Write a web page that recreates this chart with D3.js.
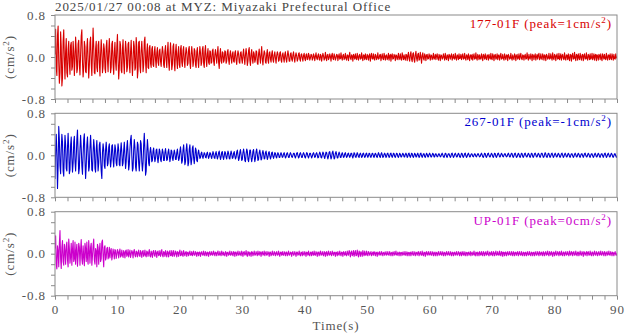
<!DOCTYPE html>
<html>
<head>
<meta charset="utf-8">
<script src="https://cdn.jsdelivr.net/npm/d3@7/dist/d3.min.js"></script>
<style>
  html, body { margin: 0; padding: 0; background: #fff; }
  svg { display: block; }
  text { font-family: "Liberation Serif", "DejaVu Serif", serif; }
</style>
</head>
<body>
<svg id="chart" width="625" height="334"></svg>
<script>
// Acceleration records, one sample every 0.1 s from 0 to 90 s (cm/s^2)
const sampleStep = 0.1;

const channelNames = ["177-01F", "267-01F", "UP-01F"];
const channelPeaks = [1, -1, 0];
const channelColors = ["#d80000", "#0000d0", "#cc00cc"];

const acc177 = [
  0.05,0.53,-0.2,-0.35,0.42,0.59,-0.1,-0.5,-0.3,0.48,
  0.2,-0.55,-0.4,0.3,0.52,-0.05,-0.42,0.1,0.35,-0.3,
  -0.38,0.15,0.3,-0.12,-0.33,0.22,0.28,-0.25,-0.18,0.3,
  0.1,-0.35,-0.05,0.38,0.15,-0.3,-0.22,0.25,0.32,-0.15,
  -0.34,0.05,0.4,0.52,-0.1,-0.38,-0.2,0.3,0.2,-0.28,
  -0.3,0.18,0.35,-0.05,-0.4,-0.15,0.28,0.38,-0.12,-0.35,
  0.1,0.55,0.2,-0.3,-0.32,0.15,0.3,-0.2,-0.28,0.22,
  0.3,-0.1,-0.36,0.05,0.33,0.12,-0.3,-0.18,0.25,0.15,
  -0.22,-0.3,0.2,0.32,-0.05,-0.28,0.1,0.35,0.05,-0.3,
  -0.2,0.25,0.3,-0.15,-0.33,0.08,0.28,-0.1,-0.25,0.2,
  0.43,-0.05,-0.42,-0.2,0.3,0.22,-0.25,-0.3,0.15,0.33,
  -0.1,-0.32,0.05,0.3,0.15,-0.28,-0.2,0.25,0.28,-0.15,
  -0.3,0.1,0.32,-0.05,-0.35,-0.1,0.3,0.2,-0.25,-0.2,
  0.37,0.2,-0.4,-0.25,0.28,0.3,-0.18,-0.3,0.12,0.3,
  0.05,-0.28,-0.15,0.3,0.38,-0.1,-0.3,0.1,0.25,-0.2,
  -0.22,0.18,0.22,-0.12,-0.2,0.15,0.2,-0.15,-0.18,0.1,
  0.2,-0.05,-0.2,0.08,0.18,-0.1,-0.16,0.12,0.15,-0.08,
  -0.18,0.05,0.2,0.1,-0.15,-0.2,0.12,0.22,-0.05,-0.2,
  0.1,0.28,-0.1,-0.25,0.05,0.27,0.05,-0.24,-0.15,0.2,
  0.25,-0.12,-0.26,0.1,0.24,-0.05,-0.22,0.08,0.2,-0.15,
  -0.2,0.15,0.22,-0.1,-0.18,0.12,0.2,-0.08,-0.2,0.05,
  0.18,0.1,-0.16,-0.12,0.15,0.2,-0.1,-0.22,0.05,0.2,
  0.05,-0.18,-0.08,0.16,0.12,-0.15,-0.2,0.1,0.18,-0.06,
  -0.2,0.02,0.2,0.08,-0.16,-0.1,0.15,0.2,-0.12,-0.2,
  0.1,0.22,-0.05,-0.18,0.06,0.16,-0.1,-0.14,0.12,0.1,
  -0.12,-0.1,0.12,0.15,-0.08,-0.16,0.05,0.14,0.02,-0.12,
  0.08,0.2,-0.1,-0.22,0.05,0.16,-0.08,-0.12,0.1,0.08,
  -0.1,-0.06,0.12,0.1,-0.12,-0.08,0.1,0.14,-0.05,-0.14,
  0.04,0.12,-0.02,-0.12,0.06,0.1,-0.08,-0.1,0.08,0.12,
  -0.06,-0.14,0.02,0.12,0.06,-0.1,-0.12,0.08,0.1,-0.04,
  -0.12,0.05,0.15,-0.02,-0.14,0.04,0.16,0.05,-0.16,-0.08,
  0.12,0.18,-0.06,-0.16,0.06,0.14,-0.04,-0.12,0.1,0.06,
  -0.1,-0.05,0.12,0.1,-0.12,-0.14,0.06,0.15,0.0,-0.12,
  0.05,0.2,-0.04,-0.15,0.02,0.12,0.08,-0.1,-0.12,0.06,
  0.14,-0.06,-0.12,0.08,0.1,-0.04,-0.1,0.06,0.12,-0.05,
  -0.1,0.04,0.1,-0.02,-0.12,0.02,0.1,0.06,-0.08,-0.06,
  0.08,0.1,-0.06,-0.1,0.04,0.08,-0.02,-0.1,0.05,0.1,
  -0.04,-0.1,0.02,0.12,0.04,-0.08,-0.08,0.06,0.08,-0.04,
  -0.08,0.04,0.1,-0.02,-0.1,0.02,0.08,0.02,-0.08,-0.04,
  0.06,0.08,-0.04,-0.08,0.04,0.06,-0.02,-0.08,0.03,0.07,
  -0.03,-0.07,0.04,0.06,-0.05,-0.04,0.07,0.03,-0.06,-0.02,
  0.05,0.04,-0.06,-0.03,0.06,0.02,-0.07,0.01,0.08,-0.02,
  -0.05,0.03,0.06,-0.04,-0.06,0.05,0.03,-0.08,0.0,0.07,
  0.02,-0.06,-0.03,0.09,-0.01,-0.07,0.04,0.05,-0.05,-0.02,
  0.06,0.01,-0.08,0.03,0.07,-0.03,-0.05,0.06,0.02,-0.06,
  -0.02,0.05,0.04,-0.07,0.01,0.06,-0.04,-0.03,0.08,-0.01,
  -0.06,0.03,0.05,-0.05,-0.02,0.07,-0.03,-0.06,0.04,0.03,
  -0.07,0.02,0.09,-0.02,-0.05,0.04,0.02,-0.08,0.05,0.01,
  -0.04,0.06,-0.02,-0.05,0.07,0.0,-0.06,0.03,0.05,-0.04,
  -0.03,0.08,-0.01,-0.07,0.04,0.03,-0.05,0.06,-0.02,-0.05,
  0.05,0.02,-0.06,0.03,0.06,-0.08,0.01,0.07,-0.03,-0.04,
  0.06,-0.02,-0.06,0.05,0.03,-0.05,-0.01,0.08,-0.04,-0.03,
  0.04,0.05,-0.07,0.0,0.06,-0.03,-0.05,0.07,0.01,-0.06,
  0.03,0.04,-0.05,-0.02,0.07,-0.06,0.02,0.05,-0.08,0.03,
  0.06,-0.04,-0.03,0.05,0.02,-0.07,0.04,0.03,-0.05,0.0,
  0.07,-0.05,-0.02,0.06,-0.04,-0.06,0.08,0.01,-0.05,0.04,
  -0.02,-0.06,0.05,0.04,-0.07,0.02,0.09,-0.03,-0.08,0.05,
  0.1,-0.04,-0.09,0.06,0.08,-0.05,-0.1,0.04,0.11,-0.02,
  -0.08,0.05,0.07,-0.06,-0.04,0.09,0.0,-0.12,0.03,0.08,
  -0.03,-0.06,0.06,0.02,-0.07,0.04,0.05,-0.04,-0.03,0.06,
  0.01,-0.06,0.04,0.03,-0.05,-0.01,0.07,-0.04,-0.02,0.05,
  -0.05,0.02,0.06,-0.03,-0.06,0.05,0.01,-0.07,0.04,0.03,
  -0.04,-0.02,0.06,0.0,-0.06,0.07,-0.02,-0.05,0.04,0.02,
  -0.07,0.05,0.03,-0.04,0.02,0.06,-0.06,-0.01,0.05,-0.03,
  -0.04,0.07,-0.01,-0.06,0.04,0.02,-0.05,0.06,-0.03,-0.02,
  0.05,-0.05,0.01,0.06,-0.04,-0.03,0.07,-0.02,-0.06,0.04,
  0.02,-0.05,0.06,-0.01,-0.07,0.04,0.03,-0.04,0.05,-0.06,
  0.01,0.06,-0.04,-0.03,0.08,-0.02,-0.06,0.05,0.02,-0.05,
  0.04,-0.03,-0.04,0.06,0.0,-0.07,0.05,0.02,-0.04,0.06,
  -0.02,-0.05,0.04,0.03,-0.06,0.05,-0.01,-0.04,0.07,-0.03,
  -0.05,0.06,0.02,-0.07,0.03,0.05,-0.04,-0.02,0.06,-0.05,
  0.03,0.04,-0.06,0.01,0.07,-0.04,-0.03,0.05,-0.02,-0.06,
  0.06,0.0,-0.05,0.04,0.03,-0.07,0.05,0.02,-0.04,-0.03,
  0.07,-0.02,-0.06,0.04,-0.01,-0.05,0.06,0.03,-0.07,0.02,
  0.05,-0.04,-0.02,0.06,-0.05,0.01,0.07,-0.03,-0.05,0.04,
  0.03,-0.06,0.02,0.05,-0.04,-0.03,0.08,-0.01,-0.06,0.05,
  -0.02,-0.04,0.06,0.01,-0.07,0.05,0.03,-0.05,0.02,0.06,
  -0.06,0.0,0.05,-0.04,0.03,0.07,-0.05,-0.03,0.06,-0.02,
  -0.05,0.06,0.02,-0.06,0.04,0.02,-0.07,0.05,0.03,-0.04,
  -0.02,0.07,-0.04,-0.03,0.06,-0.01,-0.06,0.08,-0.02,-0.05,
  0.05,0.03,-0.07,0.02,0.06,-0.04,-0.03,0.07,-0.05,0.0,
  0.06,-0.06,0.02,0.05,-0.03,-0.05,0.08,-0.02,-0.06,0.04,
  0.03,-0.05,0.06,-0.02,-0.07,0.05,0.04,-0.08,0.03,0.07,
  -0.04,-0.03,0.09,-0.02,-0.07,0.05,0.03,-0.06,0.06,-0.01,
  -0.05,0.07,0.0,-0.06,0.04,0.05,-0.07,0.02,0.06,-0.04,
  -0.03,0.08,-0.03,-0.06,0.05,0.02,-0.05,0.06,-0.04,-0.02,
  0.07,-0.05,-0.01,0.06,-0.06,0.03,0.05,-0.07,0.04,0.02,
  -0.06,0.05,0.03,-0.05,0.06,-0.02,-0.07,0.06,0.01,-0.04,
  0.05,-0.03,-0.05,0.07,-0.01,-0.06,0.04,0.03,-0.05,0.06,
  -0.02,-0.05,0.06,0.01,-0.06,0.05,-0.03,-0.04,0.06,-0.02,
  0.01
];

const acc267 = [
  -0.45,0.1,0.4,0.0,-0.63,-0.2,0.55,0.3,-0.2,-0.35,
  0.1,0.4,0.25,-0.3,-0.4,0.05,0.38,0.2,-0.25,-0.3,
  0.15,0.42,0.1,-0.35,-0.28,0.2,0.35,-0.05,-0.32,-0.15,
  0.25,0.36,-0.1,-0.3,-0.05,0.3,0.48,0.05,-0.35,-0.25,
  0.12,0.38,0.15,-0.2,-0.36,0.0,0.3,0.41,-0.1,-0.44,
  -0.2,0.2,0.35,0.05,-0.3,-0.22,0.15,0.38,0.1,-0.28,
  -0.3,0.05,0.3,0.15,-0.25,-0.32,0.1,0.28,0.0,-0.3,
  -0.15,0.2,0.25,-0.05,-0.3,-0.44,0.05,0.22,0.1,-0.2,
  -0.25,0.1,0.25,0.05,-0.2,-0.15,0.15,0.22,-0.05,-0.22,
  -0.1,0.18,0.2,-0.08,-0.22,0.0,0.2,0.12,-0.15,-0.2,
  0.05,0.22,0.1,-0.18,-0.2,0.08,0.24,0.05,-0.2,-0.15,
  0.1,0.25,0.0,-0.25,-0.12,0.15,0.28,0.02,-0.28,-0.18,
  0.12,0.3,0.38,0.0,-0.3,-0.25,0.1,0.3,0.15,-0.22,
  -0.3,0.0,0.25,0.2,-0.15,-0.3,-0.05,0.28,0.22,-0.12,
  -0.3,-0.15,0.2,0.42,0.1,-0.38,-0.3,0.05,0.3,0.12,
  -0.15,-0.2,0.05,0.15,0.05,-0.12,-0.1,0.08,0.14,-0.02,
  -0.12,-0.06,0.1,0.12,-0.04,-0.14,-0.02,0.12,0.08,-0.08,
  -0.12,0.02,0.12,0.06,-0.1,-0.1,0.05,0.13,0.02,-0.1,
  -0.08,0.06,0.12,0.0,-0.12,-0.04,0.1,0.08,-0.06,-0.1,
  0.02,0.1,0.04,-0.08,-0.08,0.05,0.12,0.0,-0.1,-0.06,
  0.08,0.16,0.02,-0.15,-0.1,0.1,0.2,0.02,-0.18,-0.12,
  0.1,0.22,0.05,-0.2,-0.14,0.12,0.2,-0.02,-0.18,-0.08,
  0.14,0.18,-0.05,-0.16,-0.02,0.14,0.1,-0.1,-0.12,0.04,
  0.1,0.02,-0.06,-0.04,0.04,0.06,-0.02,-0.06,0.0,0.05,
  0.03,-0.04,-0.05,0.03,0.06,0.0,-0.06,-0.02,0.05,0.04,
  -0.03,-0.06,0.01,0.07,0.03,-0.05,-0.06,0.03,0.07,0.0,
  -0.07,-0.03,0.05,0.08,-0.01,-0.08,-0.03,0.06,0.07,-0.03,
  -0.08,-0.01,0.07,0.05,-0.04,-0.07,0.01,0.08,0.04,-0.06,
  -0.07,0.02,0.08,0.03,-0.06,-0.05,0.04,0.07,-0.01,-0.07,
  -0.04,0.06,0.1,0.0,-0.1,-0.06,0.06,0.11,0.01,-0.1,
  -0.08,0.05,0.12,0.04,-0.1,-0.12,0.02,0.12,0.08,-0.08,
  -0.12,-0.02,0.1,0.1,-0.04,-0.12,-0.05,0.08,0.11,-0.02,
  -0.12,-0.06,0.07,0.12,0.02,-0.1,-0.08,0.05,0.1,0.02,
  -0.09,-0.07,0.04,0.09,0.03,-0.07,-0.06,0.05,0.08,0.0,
  -0.08,-0.04,0.05,0.07,-0.01,-0.07,-0.03,0.05,0.06,-0.02,
  -0.06,-0.01,0.05,0.04,-0.03,-0.05,0.01,0.05,0.02,-0.04,
  -0.04,0.02,0.05,0.01,-0.04,-0.03,0.03,0.05,0.0,-0.05,
  -0.03,0.03,0.05,0.01,-0.04,-0.04,0.02,0.05,0.02,-0.03,
  -0.04,0.0,0.04,0.04,-0.02,-0.05,-0.01,0.04,0.05,0.0,
  -0.05,-0.03,0.03,0.05,0.01,-0.04,-0.04,0.02,0.05,0.02,
  -0.03,-0.05,0.0,0.05,0.04,-0.02,-0.05,-0.01,0.04,0.04,
  -0.01,-0.05,-0.02,0.03,0.05,0.01,-0.04,-0.03,0.03,0.05,
  0.01,-0.05,-0.04,0.02,0.06,0.03,-0.04,-0.05,0.01,0.06,
  0.04,-0.03,-0.06,0.0,0.06,0.05,-0.02,-0.07,-0.02,0.06,
  0.07,0.0,-0.07,-0.04,0.05,0.08,0.01,-0.07,-0.05,0.04,
  0.07,0.02,-0.05,-0.05,0.02,0.06,0.02,-0.04,-0.04,0.02,
  0.05,0.01,-0.04,-0.03,0.03,0.05,0.0,-0.04,-0.02,0.03,
  0.04,-0.01,-0.04,-0.01,0.04,0.04,-0.02,-0.05,0.0,0.05,
  0.03,-0.03,-0.04,0.01,0.05,0.02,-0.03,-0.04,0.02,0.04,
  0.01,-0.04,-0.03,0.03,0.04,0.0,-0.04,-0.02,0.03,0.04,
  -0.01,-0.04,-0.01,0.04,0.03,-0.02,-0.04,0.0,0.04,0.03,
  -0.02,-0.04,0.01,0.04,0.02,-0.03,-0.04,0.01,0.05,0.02,
  -0.03,-0.04,0.02,0.05,0.01,-0.04,-0.03,0.02,0.04,0.01,
  -0.04,-0.02,0.03,0.04,0.0,-0.04,-0.02,0.03,0.04,-0.01,
  -0.04,-0.01,0.04,0.03,-0.02,-0.04,0.0,0.04,0.03,-0.02,
  -0.04,0.0,0.04,0.02,-0.03,-0.03,0.01,0.04,0.02,-0.03,
  -0.03,0.02,0.04,0.01,-0.04,-0.02,0.03,0.04,-0.01,-0.04,
  -0.01,0.04,0.03,-0.02,-0.04,0.0,0.04,0.02,-0.03,-0.03,
  0.02,0.04,0.0,-0.04,-0.02,0.03,0.04,-0.01,-0.04,-0.01,
  0.03,0.03,-0.02,-0.04,0.0,0.04,0.02,-0.03,-0.03,0.02,
  0.04,0.01,-0.03,-0.03,0.01,0.04,0.02,-0.03,-0.03,0.02,
  0.03,0.0,-0.03,-0.02,0.02,0.03,0.0,-0.03,-0.02,0.02,
  0.04,0.01,-0.03,-0.04,0.0,0.04,0.03,-0.02,-0.04,0.0,
  0.03,0.03,-0.01,-0.04,-0.02,0.03,0.04,0.0,-0.04,-0.02,
  0.02,0.04,0.01,-0.03,-0.03,0.01,0.04,0.02,-0.03,-0.04,
  0.0,0.04,0.03,-0.02,-0.04,-0.01,0.03,0.04,-0.01,-0.04,
  -0.02,0.02,0.04,0.01,-0.03,-0.03,0.01,0.03,0.02,-0.02,
  -0.03,0.0,0.03,0.02,-0.02,-0.03,0.0,0.03,0.03,-0.01,
  -0.03,-0.02,0.02,0.04,0.01,-0.03,-0.04,0.0,0.04,0.03,
  -0.02,-0.04,-0.01,0.03,0.04,0.0,-0.03,-0.03,0.01,0.04,
  0.02,-0.02,-0.04,0.0,0.04,0.03,-0.02,-0.04,-0.01,0.03,
  0.04,0.01,-0.03,-0.03,0.01,0.04,0.02,-0.02,-0.03,0.0,
  0.03,0.03,-0.01,-0.03,-0.02,0.02,0.04,0.01,-0.03,-0.03,
  0.01,0.04,0.03,-0.02,-0.04,-0.01,0.03,0.04,0.0,-0.04,
  -0.03,0.01,0.04,0.02,-0.03,-0.04,0.0,0.04,0.03,-0.02,
  -0.04,-0.01,0.03,0.04,0.0,-0.03,-0.03,0.01,0.04,0.02,
  -0.02,-0.04,0.0,0.04,0.03,-0.02,-0.04,-0.01,0.03,0.04,
  0.01,-0.03,-0.03,0.01,0.04,0.02,-0.02,-0.04,0.0,0.04,
  0.04,0.0,-0.04,-0.03,0.02,0.05,0.02,-0.03,-0.04,0.0,
  0.04,0.03,-0.02,-0.04,-0.01,0.03,0.04,0.0,-0.04,-0.02,
  0.02,0.04,0.01,-0.03,-0.03,0.01,0.04,0.02,-0.02,-0.04,
  -0.01,0.03,0.04,0.0,-0.04,-0.02,0.02,0.04,0.01,-0.03,
  -0.03,0.01,0.04,0.02,-0.02,-0.04,0.0,0.03,0.03,-0.01,
  -0.04,-0.02,0.02,0.04,0.01,-0.03,-0.03,0.01,0.04,0.02,
  -0.02,-0.04,0.0,0.03,0.03,-0.01,-0.04,-0.01,0.03,0.04,
  0.0,-0.03,-0.03,0.01,0.04,0.02,-0.02,-0.04,0.0,0.03,
  0.03,-0.01,-0.04,-0.02,0.02,0.04,0.01,-0.03,-0.03,0.01,
  0.04,0.02,-0.02,-0.04,0.0,0.03,0.03,-0.01,-0.04,-0.01,
  0.03,0.04,0.0,-0.04,-0.02,0.02,0.04,0.01,-0.03,-0.03,
  0.01,0.04,0.02,-0.02,-0.04,-0.01,0.03,0.03,-0.01,-0.04,
  -0.01
];

const accUP = [
  0.1,0.34,-0.2,-0.29,0.15,0.05,-0.25,0.2,0.44,-0.1,
  -0.28,0.12,0.25,-0.15,-0.22,0.18,0.05,-0.2,0.15,0.22,
  -0.12,-0.25,0.28,0.1,-0.18,-0.05,0.2,-0.22,0.08,0.25,
  -0.15,-0.1,0.22,-0.2,0.05,0.18,-0.24,-0.05,0.2,0.12,
  -0.22,0.08,0.27,-0.1,-0.2,0.15,-0.05,-0.23,0.2,0.1,
  -0.15,0.22,-0.08,-0.2,0.25,0.05,-0.18,0.12,0.2,-0.22,
  -0.05,0.15,0.28,-0.12,-0.2,0.1,0.05,-0.25,0.18,0.12,
  -0.2,0.05,0.2,-0.15,-0.1,0.22,0.26,-0.05,-0.25,0.12,
  0.15,-0.12,-0.08,0.1,0.12,-0.1,-0.05,0.12,-0.08,0.06,
  0.1,-0.12,-0.04,0.09,0.02,-0.1,0.08,0.06,-0.09,-0.02,
  0.08,0.04,-0.08,0.03,0.09,-0.06,-0.04,0.07,-0.03,-0.07,
  0.06,0.02,-0.08,0.05,0.07,-0.05,-0.02,0.08,-0.06,0.01,
  0.07,-0.07,-0.01,0.06,0.03,-0.08,0.04,0.08,-0.03,-0.06,
  0.05,0.03,-0.06,0.02,0.07,-0.04,-0.05,0.06,0.01,-0.07,
  0.04,0.06,-0.05,-0.02,0.07,-0.03,-0.06,0.05,0.03,-0.05,
  0.02,0.08,-0.04,-0.06,0.05,0.0,-0.07,0.04,0.06,-0.03,
  -0.05,0.06,0.02,-0.07,0.03,0.05,-0.04,-0.02,0.06,-0.05,
  0.01,0.08,-0.03,-0.06,0.04,0.02,-0.05,0.06,-0.01,-0.06,
  0.05,0.03,-0.06,0.02,0.06,-0.04,-0.03,0.06,-0.05,0.0,
  0.06,-0.05,-0.02,0.05,0.01,-0.06,0.04,0.03,-0.05,0.02,
  0.07,-0.04,-0.03,0.05,-0.02,-0.05,0.06,0.0,-0.04,0.03,
  0.04,-0.05,0.02,0.03,-0.04,0.01,0.05,-0.03,-0.02,0.04,
  -0.04,0.0,0.05,-0.03,-0.03,0.04,0.01,-0.05,0.03,0.02,
  -0.04,0.03,0.03,-0.05,0.01,0.04,-0.02,-0.03,0.05,-0.01,
  -0.04,0.04,0.01,-0.04,0.03,0.02,-0.05,0.02,0.04,-0.03,
  -0.01,0.04,-0.03,-0.02,0.05,0.0,-0.04,0.03,0.02,-0.04,
  0.02,0.05,-0.03,-0.03,0.04,-0.01,-0.04,0.05,0.01,-0.03,
  0.03,-0.02,-0.04,0.04,0.02,-0.05,0.02,0.03,-0.03,-0.01,
  0.05,-0.03,-0.02,0.04,-0.01,-0.04,0.04,0.02,-0.05,0.03,
  0.03,-0.04,0.0,0.05,-0.03,-0.02,0.04,-0.01,-0.04,0.05,
  0.01,-0.05,0.03,0.04,-0.03,-0.01,0.06,-0.02,-0.05,0.04,
  0.02,-0.04,0.03,0.01,-0.05,0.04,0.03,-0.04,0.0,0.05,
  -0.03,-0.02,0.04,0.0,-0.04,0.05,-0.01,-0.03,0.04,0.02,
  -0.05,0.02,0.04,-0.03,-0.01,0.05,-0.04,0.01,0.04,-0.03,
  -0.02,0.04,0.01,-0.05,0.03,0.03,-0.04,-0.01,0.05,-0.02,
  -0.03,0.04,0.02,-0.04,0.01,0.04,-0.03,-0.02,0.05,-0.01,
  -0.05,0.03,0.02,-0.03,0.04,-0.02,-0.03,0.04,0.01,-0.04,
  0.03,0.03,-0.04,0.0,0.05,-0.03,-0.02,0.03,0.02,-0.05,
  0.02,0.04,-0.03,-0.02,0.04,0.0,-0.05,0.03,0.03,-0.03,
  -0.01,0.05,-0.02,-0.04,0.03,0.02,-0.04,0.04,-0.01,-0.03,
  0.04,0.01,-0.05,0.03,0.02,-0.03,0.05,-0.02,-0.04,0.03,
  0.02,-0.04,0.04,0.0,-0.03,0.05,-0.02,-0.03,0.04,0.01,
  -0.05,0.03,0.03,-0.04,0.01,0.05,-0.03,-0.02,0.04,-0.01,
  -0.04,0.04,0.02,-0.05,0.02,0.04,-0.04,0.0,0.05,-0.03,
  -0.02,0.04,-0.01,-0.04,0.05,0.01,-0.03,0.03,0.02,-0.05,
  0.03,0.02,-0.04,0.04,-0.01,-0.03,0.05,0.0,-0.04,0.03,
  0.02,-0.05,0.04,0.01,-0.03,0.04,-0.02,-0.04,0.05,0.0,
  -0.03,0.06,0.03,-0.06,0.02,0.05,-0.04,-0.01,0.06,-0.05,
  0.01,0.06,-0.04,-0.03,0.07,-0.01,-0.06,0.05,0.02,-0.05,
  0.04,0.01,-0.05,0.06,0.0,-0.04,0.05,-0.02,-0.03,0.05,
  -0.01,-0.04,0.04,0.02,-0.03,0.01,0.04,-0.04,0.0,0.03,
  -0.03,0.04,0.01,-0.04,0.03,0.02,-0.05,0.03,0.01,-0.03,
  0.04,-0.01,-0.03,0.04,0.01,-0.04,0.02,0.03,-0.03,0.0,
  0.04,-0.03,-0.01,0.04,-0.02,-0.03,0.04,0.01,-0.04,0.02,
  0.03,-0.04,0.01,0.04,-0.03,-0.01,0.05,-0.02,-0.03,0.03,
  0.01,-0.04,0.03,0.02,-0.04,0.02,0.03,-0.03,-0.01,0.04,
  -0.02,-0.03,0.04,0.0,-0.04,0.03,0.02,-0.04,0.02,0.03,
  -0.04,0.01,0.04,-0.02,-0.03,0.04,0.0,-0.04,0.03,0.02,
  -0.03,0.02,0.04,-0.04,0.0,0.04,-0.02,-0.03,0.05,-0.01,
  -0.04,0.03,0.02,-0.05,0.02,0.04,-0.03,0.0,0.04,-0.03,
  -0.01,0.04,-0.02,-0.03,0.04,0.01,-0.04,0.03,0.01,-0.04,
  0.03,0.02,-0.04,0.01,0.04,-0.03,-0.02,0.04,-0.01,-0.03,
  0.04,0.0,-0.04,0.03,0.02,-0.04,0.01,0.04,-0.03,-0.01,
  0.04,-0.02,-0.03,0.04,0.0,-0.04,0.03,0.02,-0.04,0.02,
  0.03,-0.03,0.0,0.04,-0.03,-0.02,0.04,0.01,-0.04,0.03,
  0.01,-0.04,0.04,0.0,-0.03,0.04,-0.01,-0.04,0.03,0.02,
  -0.04,0.02,0.03,-0.03,0.0,0.04,-0.04,0.01,0.03,-0.03,
  -0.01,0.05,-0.02,-0.04,0.03,0.02,-0.04,0.03,0.01,-0.04,
  0.04,0.0,-0.03,0.04,-0.01,-0.04,0.04,0.02,-0.04,0.01,
  0.04,-0.03,-0.01,0.05,-0.02,-0.04,0.03,0.01,-0.03,0.04,
  -0.01,-0.04,0.04,0.02,-0.04,0.01,0.05,-0.03,-0.02,0.04,
  -0.02,-0.03,0.05,-0.01,-0.04,0.04,0.02,-0.05,0.03,0.02,
  -0.04,0.03,0.03,-0.04,0.01,0.04,-0.03,-0.01,0.04,-0.02,
  -0.03,0.04,0.0,-0.04,0.04,0.01,-0.04,0.03,0.02,-0.03,
  0.02,0.04,-0.04,0.0,0.04,-0.02,-0.03,0.04,-0.01,-0.04,
  0.03,0.02,-0.04,0.02,0.03,-0.04,0.0,0.04,-0.03,-0.02,
  0.04,-0.01,-0.04,0.03,0.02,-0.04,0.02,0.03,-0.04,0.01,
  0.04,-0.03,-0.02,0.04,0.0,-0.04,0.04,0.01,-0.03,0.03,
  0.01,-0.04,0.04,0.01,-0.04,0.02,0.04,-0.03,-0.01,0.05,
  -0.02,-0.04,0.04,0.01,-0.03,0.04,0.0,-0.05,0.03,0.03,
  -0.04,0.01,0.05,-0.03,-0.02,0.04,0.01,-0.04,0.04,0.0,
  -0.03,0.05,-0.01,-0.04,0.03,0.03,-0.04,0.01,0.04,-0.03,
  -0.01,0.04,-0.02,-0.04,0.05,0.0,-0.03,0.04,0.02,-0.04,
  0.02,0.04,-0.03,-0.02,0.05,-0.01,-0.04,0.03,0.03,-0.04,
  0.0,0.05,-0.02,-0.03,0.04,0.01,-0.05,0.04,0.02,-0.03,
  0.01,0.04,-0.04,0.02,0.04,-0.03,-0.02,0.05,-0.01,-0.04,
  0.03,0.03,-0.04,0.0,0.05,-0.02,-0.03,0.04,0.01,-0.04,
  0.02,0.04,-0.03,-0.01,0.05,-0.03,-0.02,0.04,0.0,-0.04,
  0.04,0.02,-0.04,0.01,0.04,-0.03,-0.01,0.05,-0.02,-0.03,
  0.04,0.01,-0.04,0.03,0.02,-0.04,0.01,0.04,-0.02,-0.03,
  0.02
];

const channelData = [acc177, acc267, accUP];

const xTicksMajor = [0, 10, 20, 30, 40, 50, 60, 70, 80, 90];
const xTicksMinor = [2, 4, 6, 8, 12, 14, 16, 18, 22, 24, 26, 28, 32, 34, 36, 38,
                     42, 44, 46, 48, 52, 54, 56, 58, 62, 64, 66, 68, 72, 74, 76, 78,
                     82, 84, 86, 88];
const yTicksMajor = [-0.8, 0.0, 0.8];
const yTicksMinor = [-0.6, -0.4, -0.2, 0.2, 0.4, 0.6];

const titleText = "2025/01/27 00:08 at MYZ: Miyazaki Prefectural Office";

// ---- layout ----
const svg = d3.select("#chart");
const plotLeft = 55, plotRight = 617;
const panelTops = [15, 113.3, 211.7];
const panelHeight = 84;
const axisColor = "#8a8a8a";
const textColor = "#555";
const fontSize = 13;

const x = d3.scaleLinear().domain([0, 90]).range([plotLeft, plotRight]);

svg.append("text")
  .attr("x", plotLeft)
  .attr("y", 11)
  .attr("fill", "#444")
  .attr("font-size", fontSize)
  .attr("letter-spacing", "0.9px")
  .text(titleText);

const defs = svg.append("defs");

channelNames.forEach((name, k) => {
  const top = panelTops[k];
  const y = d3.scaleLinear().domain([-0.8, 0.8]).range([top + panelHeight, top]);
  const g = svg.append("g");

  // clip so the trace stays inside the frame
  defs.append("clipPath").attr("id", "clip" + k)
    .append("rect")
    .attr("x", plotLeft).attr("y", top)
    .attr("width", plotRight - plotLeft).attr("height", panelHeight);

  const line = d3.line()
    .x((d, i) => x(i * sampleStep))
    .y(d => y(d));

  g.append("path")
    .datum(channelData[k])
    .attr("clip-path", "url(#clip" + k + ")")
    .attr("fill", "none")
    .attr("stroke", channelColors[k])
    .attr("stroke-width", 1.1)
    .attr("stroke-linejoin", "round")
    .attr("d", line);

  // frame
  g.append("rect")
    .attr("x", plotLeft).attr("y", top)
    .attr("width", plotRight - plotLeft).attr("height", panelHeight)
    .attr("fill", "none")
    .attr("stroke", axisColor)
    .attr("stroke-width", 1);

  // left axis: minor and major ticks
  const yMinorAxis = d3.axisLeft(y).tickValues(yTicksMinor).tickSize(4).tickFormat("");
  const yMajorAxis = d3.axisLeft(y).tickValues(yTicksMajor).tickSize(4).tickPadding(5)
    .tickFormat(d => d.toFixed(1));
  [yMinorAxis, yMajorAxis].forEach(ax => {
    const a = g.append("g").attr("transform", `translate(${plotLeft},0)`).call(ax);
    a.select(".domain").remove();
    a.selectAll("line").attr("stroke", axisColor);
    a.selectAll("text")
      .attr("fill", textColor)
      .attr("font-size", fontSize)
      .attr("letter-spacing", "0.9px")
      .style("font-family", "'Liberation Serif', 'DejaVu Serif', serif");
  });

  // bottom axis ticks (labels only on the last panel)
  const bottom = top + panelHeight;
  const xMinorAxis = d3.axisBottom(x).tickValues(xTicksMinor).tickSize(4).tickFormat("");
  const xMajorAxis = d3.axisBottom(x).tickValues(xTicksMajor).tickSize(4).tickPadding(5)
    .tickFormat(k === channelNames.length - 1 ? d3.format("d") : "");
  [xMinorAxis, xMajorAxis].forEach(ax => {
    const a = g.append("g").attr("transform", `translate(0,${bottom})`).call(ax);
    a.select(".domain").remove();
    a.selectAll("line").attr("stroke", axisColor);
    a.selectAll("text")
      .attr("fill", textColor)
      .attr("font-size", fontSize)
      .attr("letter-spacing", "0.9px")
      .style("font-family", "'Liberation Serif', 'DejaVu Serif', serif");
  });

  // y-axis unit label
  const yl = g.append("text")
    .attr("transform", `translate(14,${top + panelHeight / 2}) rotate(-90)`)
    .attr("text-anchor", "middle")
    .attr("fill", textColor)
    .attr("font-size", fontSize)
    .attr("letter-spacing", "0.9px");
  yl.append("tspan").text("(cm/s");
  yl.append("tspan").attr("dy", -5).attr("font-size", 9).text("2");
  yl.append("tspan").attr("dy", 5).text(")");

  // channel legend with peak value
  const lg = g.append("text")
    .attr("x", plotRight - 5)
    .attr("y", top + 13)
    .attr("text-anchor", "end")
    .attr("fill", channelColors[k])
    .attr("font-size", fontSize)
    .attr("letter-spacing", "0.9px");
  lg.append("tspan").text(`${name} (peak=${channelPeaks[k]}cm/s`);
  lg.append("tspan").attr("dy", -5).attr("font-size", 9).text("2");
  lg.append("tspan").attr("dy", 5).text(")");
});

// x axis title
svg.append("text")
  .attr("x", (plotLeft + plotRight) / 2)
  .attr("y", 330)
  .attr("text-anchor", "middle")
  .attr("fill", textColor)
  .attr("font-size", fontSize)
  .attr("letter-spacing", "0.9px")
  .text("Time(s)");
</script>
</body>
</html>
